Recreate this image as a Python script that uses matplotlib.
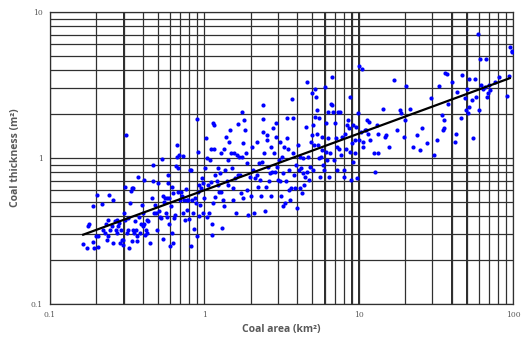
import matplotlib
matplotlib.use("Agg")
import matplotlib.pyplot as plt
from matplotlib.ticker import FixedLocator, FixedFormatter, NullFormatter

# coal area (km2) and coal thickness
area = [
    0.164, 0.173, 0.176, 0.178, 0.189, 0.191, 0.194, 0.198, 0.202, 0.205,
    0.205, 0.216, 0.222, 0.227, 0.231, 0.233, 0.236, 0.239, 0.242, 0.245,
    0.251, 0.257, 0.257, 0.264, 0.266, 0.270, 0.273, 0.277, 0.281, 0.284,
    0.287, 0.291, 0.296, 0.299, 0.302, 0.306, 0.306, 0.311, 0.314, 0.319,
    0.322, 0.325, 0.330, 0.334, 0.339, 0.342, 0.347, 0.347, 0.350, 0.356,
    0.361, 0.365, 0.368, 0.370, 0.379, 0.383, 0.387, 0.393, 0.399, 0.403,
    0.407, 0.409, 0.413, 0.417, 0.423, 0.427, 0.434, 0.445, 0.456, 0.463,
    0.467, 0.472, 0.479, 0.486, 0.491, 0.503, 0.510, 0.516, 0.523, 0.534,
    0.537, 0.542, 0.548, 0.556, 0.562, 0.570, 0.575, 0.578, 0.584, 0.590,
    0.593, 0.599, 0.605, 0.614, 0.620, 0.623, 0.630, 0.636, 0.646, 0.655,
    0.662, 0.669, 0.672, 0.679, 0.686, 0.696, 0.706, 0.713, 0.724, 0.731,
    0.738, 0.749, 0.760, 0.768, 0.775, 0.787, 0.795, 0.807, 0.815, 0.823,
    0.836, 0.849, 0.861, 0.870, 0.883, 0.892, 0.901, 0.905, 0.914, 0.923,
    0.928, 0.937, 0.951, 0.961, 0.975, 0.985, 1.00, 1.01, 1.02, 1.035,
    1.046, 1.06, 1.077, 1.088, 1.10, 1.10, 1.115, 1.127, 1.13, 1.14,
    1.155, 1.16, 1.17, 1.18, 1.20, 1.22, 1.23, 1.24, 1.26, 1.275,
    1.28, 1.295, 1.31, 1.33, 1.34, 1.36, 1.375, 1.40, 1.415, 1.43,
    1.45, 1.47, 1.48, 1.50, 1.53, 1.54, 1.56, 1.58, 1.60, 1.62,
    1.64, 1.66, 1.68, 1.70, 1.72, 1.745, 1.76, 1.77, 1.79, 1.815,
    1.83, 1.85, 1.88, 1.90, 1.93, 1.96, 2.00, 2.03, 2.06, 2.08,
    2.13, 2.18, 2.20, 2.235, 2.27, 2.29, 2.32, 2.35, 2.38, 2.39,
    2.41, 2.44, 2.47, 2.50, 2.53, 2.56, 2.59, 2.63, 2.66, 2.69,
    2.72, 2.76, 2.80, 2.83, 2.87, 2.90, 2.92, 2.94, 2.99, 3.02,
    3.07, 3.09, 3.14, 3.17, 3.22, 3.25, 3.30, 3.33, 3.38, 3.42,
    3.45, 3.50, 3.54, 3.55, 3.59, 3.63, 3.68, 3.73, 3.77, 3.81,
    3.87, 3.92, 3.96, 4.02, 4.07, 4.13, 4.17, 4.23, 4.27, 4.34,
    4.38, 4.42, 4.49, 4.55, 4.60, 4.65, 4.72, 4.77, 4.84, 4.91,
    4.96, 5.00, 5.03, 5.08, 5.13, 5.18, 5.21, 5.26, 5.34, 5.40,
    5.47, 5.53, 5.55, 5.61, 5.67, 5.75, 5.81, 5.90, 5.97, 6.05,
    6.11, 6.14, 6.20, 6.30, 6.36, 6.42, 6.52, 6.62, 6.70, 6.75,
    6.85, 6.96, 7.03, 7.13, 7.20, 7.27, 7.38, 7.45, 7.57, 7.68,
    7.76, 7.96, 8.04, 8.16, 8.28, 8.36, 8.45, 8.58, 8.71, 8.79,
    8.88, 9.02, 9.16, 9.23, 9.38, 9.47, 9.62, 9.71, 9.81, 9.96,
    10.1, 10.3, 10.5, 10.6, 10.7, 10.9, 11.2, 11.3, 11.4, 11.6,
    11.8, 12.6, 12.7, 13.1, 13.3, 13.4, 14.3, 14.8, 15.0, 15.6,
    17.0, 17.6, 18.5, 18.8, 19.5, 20.0, 20.3, 21.5, 22.6, 23.8,
    25.0, 25.6, 27.6, 29.3, 30.5, 32.0, 32.9, 34.5, 35.1, 35.4,
    35.7, 36.3, 37.2, 38.1, 40.4, 42.0, 42.6, 43.4, 46.1, 46.6,
    48.4, 49.3, 50.1, 50.8, 51.4, 52.0, 53.9, 55.3, 56.7, 57.6,
    58.8, 59.6, 61.1, 62.3, 63.3, 65.2, 66.7, 67.5, 68.5, 69.4,
    70.9, 76.5, 80.5, 91.0, 93.3, 94.7, 98.0, 98.8,
]
thickness = [
    0.256, 0.242, 0.344, 0.35, 0.465, 0.264, 0.242, 0.29, 0.556, 0.245,
    0.29, 0.485, 0.323, 0.306, 0.35, 0.275, 0.377, 0.29, 0.56, 0.323,
    0.34, 0.516, 0.261, 0.367, 0.323, 0.377, 0.306, 0.34, 0.358, 0.261,
    0.323, 0.275, 0.254, 0.275, 0.419, 0.637, 0.377, 1.44, 0.306, 0.323,
    0.387, 0.242, 0.49, 0.59, 0.62, 0.268, 0.62, 0.323, 0.306, 0.367,
    0.323, 0.29, 0.268, 0.746, 0.397, 0.306, 0.354, 0.477, 0.34, 0.419,
    0.35, 0.708, 0.298, 0.323, 0.377, 0.306, 0.367, 0.261, 0.53, 0.896,
    0.69, 0.419, 0.477, 0.419, 0.323, 0.671, 0.43, 0.397, 0.387, 0.979,
    0.545, 0.278, 0.503, 0.53, 0.419, 0.397, 0.53, 0.678, 0.765, 0.535,
    0.354, 0.248, 0.47, 0.306, 0.637, 0.574, 0.261, 0.387, 0.408, 0.882,
    1.23, 1.02, 0.85, 0.589, 1.05, 0.516, 0.589, 0.545, 1.03, 0.419,
    0.516, 0.377, 0.61, 0.516, 0.442, 0.516, 0.38, 0.829, 0.251, 0.829,
    0.516, 0.419, 0.326, 0.53, 0.49, 0.294, 1.84, 1.09, 0.589, 0.654,
    0.40, 0.477, 0.62, 0.727, 0.419, 0.678, 0.53, 0.85, 1.36, 0.995,
    0.397, 0.654, 0.419, 0.969, 1.15, 0.686, 0.298, 0.35, 0.49, 1.74,
    1.15, 1.68, 0.765, 0.538, 0.69, 0.85, 0.654, 0.58, 0.786, 1.08,
    0.589, 0.33, 0.516, 1.16, 0.465, 0.829, 1.40, 0.69, 0.654, 0.969,
    1.29, 1.55, 1.08, 0.85, 0.62, 0.516, 1.08, 0.727, 0.419, 1.05,
    1.71, 0.765, 1.02, 0.765, 0.574, 1.02, 2.07, 1.26, 0.53, 1.82,
    1.55, 1.08, 0.604, 0.92, 0.408, 0.746, 0.545, 1.19, 0.829, 0.419,
    0.727, 0.765, 1.29, 0.637, 0.92, 0.708, 0.545, 0.944, 1.84, 2.29,
    1.51, 1.08, 0.43, 0.637, 1.33, 1.44, 0.873, 0.69, 0.786, 1.19,
    0.545, 0.806, 1.60, 1.08, 0.806, 1.40, 1.73, 0.873, 0.708, 0.969,
    1.29, 0.69, 0.545, 1.02, 0.465, 0.786, 1.19, 0.49, 0.69, 1.36,
    1.87, 1.16, 0.829, 0.604, 0.516, 0.62, 2.52, 1.87, 1.08, 0.765,
    0.62, 0.896, 0.453, 1.23, 0.829, 0.62, 1.02, 0.85, 0.574, 0.786,
    0.995, 0.654, 0.746, 1.64, 3.32, 0.806, 1.02, 0.708, 0.873, 1.29,
    2.77, 1.44, 1.68, 0.829, 1.23, 2.99, 1.92, 2.63, 2.13, 1.47,
    1.23, 0.995, 1.87, 0.746, 1.02, 1.40, 1.13, 0.896, 0.829, 3.07,
    1.73, 1.10, 0.969, 1.36, 2.07, 0.746, 1.08, 2.36, 3.60, 2.30,
    2.07, 0.969, 1.73, 1.36, 1.19, 0.829, 2.07, 1.16, 2.07, 1.05,
    1.40, 0.829, 0.746, 1.47, 1.16, 1.68, 1.82, 1.60, 1.10, 2.63,
    0.708, 1.26, 1.68, 0.944, 1.08, 1.33, 1.64, 0.727, 2.02, 4.25,
    1.33, 1.51, 4.10, 1.29, 1.19, 1.55, 1.55, 1.82, 1.47, 1.77,
    1.33, 1.08, 0.806, 1.68, 1.08, 1.47, 2.18, 1.40, 1.44, 1.19,
    3.44, 1.55, 2.13, 2.02, 1.40, 1.82, 3.10, 2.18, 1.19, 1.44,
    1.13, 1.60, 1.26, 2.56, 1.05, 1.33, 3.12, 1.97, 1.55, 1.82,
    1.60, 3.83, 3.79, 2.36, 3.32, 1.29, 1.47, 2.84, 1.87, 3.69,
    2.56, 2.13, 2.99, 2.02, 3.50, 2.24, 2.49, 1.36, 3.50, 2.63,
    7.11, 2.13, 4.80, 3.15, 2.99, 3.07, 4.74, 2.63, 2.77, 3.15,
    2.92, 3.32, 3.60, 2.65, 3.64, 5.77, 5.43, 5.35,
]

# power-law trend line end points
trend_area = [0.164, 95.0]
trend_thickness = [0.298, 3.52]

x_ticks = [0.1, 1, 10, 100]
x_labels = ["0.1", "1", "10", "100"]
y_ticks = [0.1, 1, 10]
y_labels = ["0.1", "1", "10"]
# 2..9 within each decade, for the minor gridlines
x_minor = [m * d for d in (0.1, 1, 10) for m in range(2, 10)]
y_minor = [m * d for d in (0.1, 1) for m in range(2, 10)]

grid_col = "#303030"

fig = plt.figure(figsize=(5.24, 3.43), dpi=100)
ax = fig.add_axes([0.0954, 0.114, 0.884, 0.851])

ax.set_xscale("log")
ax.set_yscale("log")

ax.scatter(area, thickness, s=9, color="#0000ff", linewidths=0, zorder=3)
ax.plot(trend_area, trend_thickness, color="black", linewidth=1.6, zorder=4)

ax.xaxis.set_major_locator(FixedLocator(x_ticks))
ax.xaxis.set_major_formatter(FixedFormatter(x_labels))
ax.yaxis.set_major_locator(FixedLocator(y_ticks))
ax.yaxis.set_major_formatter(FixedFormatter(y_labels))
ax.xaxis.set_minor_locator(FixedLocator(x_minor))
ax.yaxis.set_minor_locator(FixedLocator(y_minor))
ax.xaxis.set_minor_formatter(NullFormatter())
ax.yaxis.set_minor_formatter(NullFormatter())
ax.set_xlim(0.1, 100)
ax.set_ylim(0.1, 10)

# gridlines: normal tick grid, plus thin filled strips for the vertical ones
ax.grid(True, which="both", color=grid_col, linewidth=0.9, zorder=1)
for xv in x_ticks + x_minor:
    ax.axvspan(xv / 1.0045, xv * 1.0045, facecolor=grid_col,
               edgecolor="none", zorder=1)

ax.tick_params(which="both", length=0, pad=5, labelsize=5.5,
               labelcolor="#595959", labelfontfamily="DejaVu Serif")

for sp in ax.spines.values():
    sp.set_color(grid_col)
    sp.set_linewidth(0.9)

ax.set_xlabel("Coal area (km²)", fontsize=7.5, fontweight="bold",
              color="#595959", family="Open Sans", labelpad=4)
ax.set_ylabel("Coal thickness (m²)", fontsize=7.5, fontweight="bold",
              color="#595959", family="Open Sans", labelpad=7)

fig.savefig("out.png", dpi=100)
